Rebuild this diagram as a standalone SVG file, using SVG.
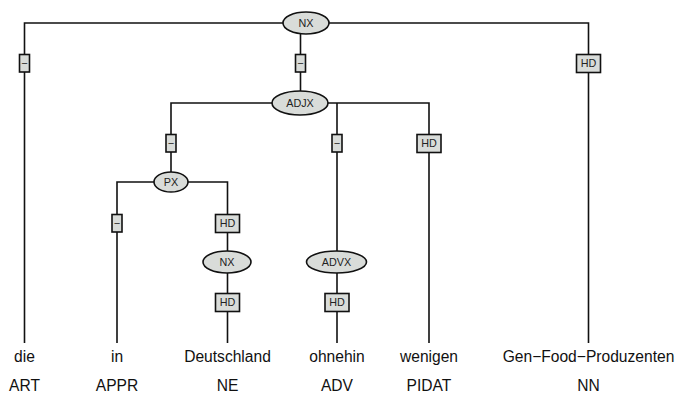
<svg xmlns="http://www.w3.org/2000/svg" width="679" height="393" viewBox="0 0 679 393">
<style>
.e{fill:#d9dcd9;stroke:#111;stroke-width:1.6}
.b{fill:#d9dcd9;stroke:#111;stroke-width:1.6}
.c{fill:none;stroke:#111;stroke-width:1.6}
.l{font-family:"Liberation Sans",Arial,sans-serif;font-size:10.8px;fill:#222;text-anchor:middle}
.w{font-family:"Liberation Sans",Arial,sans-serif;font-size:15.6px;fill:#111;text-anchor:middle}
</style>
<rect width="679" height="393" fill="#fff"/>
<g id="connectors">
<path class="c" d="M24.5,343 V23 H588.5 V343"/>
<path class="c" d="M300.5,23 V103"/>
<path class="c" d="M171,182 V103 H429 V343"/>
<path class="c" d="M337,103 V343"/>
<path class="c" d="M117,343 V182 H227.5 V343"/>
</g>
<g id="edge-labels">
<g id="e1"><rect class="b" x="19.5" y="54.5" width="10" height="17.5"/><text class="l" x="24.5" y="67">−</text></g>
<g id="e2"><rect class="b" x="295.5" y="54.5" width="10" height="17.5"/><text class="l" x="300.5" y="67">−</text></g>
<g id="e3"><rect class="b" x="576.5" y="54.5" width="24" height="18"/><text class="l" x="588.5" y="67.2">HD</text></g>
<g id="e4"><rect class="b" x="166" y="134.5" width="10" height="17.5"/><text class="l" x="171" y="147">−</text></g>
<g id="e5"><rect class="b" x="332" y="134.5" width="10" height="17.5"/><text class="l" x="337" y="147">−</text></g>
<g id="e6"><rect class="b" x="417" y="134.5" width="24" height="18"/><text class="l" x="429" y="147.2">HD</text></g>
<g id="e7"><rect class="b" x="112" y="214.5" width="10" height="17.5"/><text class="l" x="117" y="227">−</text></g>
<g id="e8"><rect class="b" x="215.5" y="214.5" width="24" height="18"/><text class="l" x="227.5" y="227.2">HD</text></g>
<g id="e9"><rect class="b" x="215.5" y="293.5" width="24" height="18"/><text class="l" x="227.5" y="306.2">HD</text></g>
<g id="e10"><rect class="b" x="325" y="293.5" width="24" height="18"/><text class="l" x="337" y="306.2">HD</text></g>
</g>
<g id="n-NX-top"><ellipse class="e" cx="306" cy="23" rx="23" ry="11"/><text class="l" x="306" y="26.9">NX</text></g>
<g id="n-ADJX"><ellipse class="e" cx="300" cy="103" rx="28" ry="12"/><text class="l" x="300" y="106.9">ADJX</text></g>
<g id="n-PX"><ellipse class="e" cx="171" cy="182" rx="17" ry="10"/><text class="l" x="171" y="185.9">PX</text></g>
<g id="n-NX-low"><ellipse class="e" cx="227" cy="262" rx="24" ry="11"/><text class="l" x="227" y="265.9">NX</text></g>
<g id="n-ADVX"><ellipse class="e" cx="336.5" cy="262" rx="30" ry="11"/><text class="l" x="336.5" y="265.9">ADVX</text></g>
<g id="t-die"><text class="w" x="24.5" y="362">die</text><text class="w" x="24.5" y="391">ART</text></g>
<g id="t-in"><text class="w" x="117" y="362">in</text><text class="w" x="117" y="391">APPR</text></g>
<g id="t-Deutschland"><text class="w" x="227.5" y="362">Deutschland</text><text class="w" x="227.5" y="391">NE</text></g>
<g id="t-ohnehin"><text class="w" x="337" y="362">ohnehin</text><text class="w" x="337" y="391">ADV</text></g>
<g id="t-wenigen"><text class="w" x="429" y="362">wenigen</text><text class="w" x="429" y="391">PIDAT</text></g>
<g id="t-Gen"><text class="w" x="588.5" y="362">Gen−Food−Produzenten</text><text class="w" x="588.5" y="391">NN</text></g>
</svg>
